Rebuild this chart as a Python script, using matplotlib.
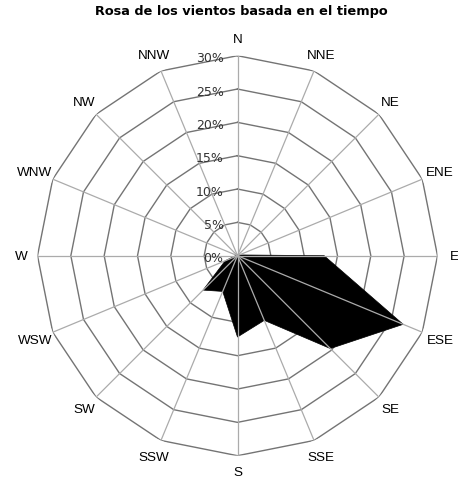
import numpy as np
import matplotlib
matplotlib.use("Agg")
import matplotlib.pyplot as plt

directions = ["N", "NNE", "NE", "ENE", "E", "ESE", "SE", "SSE",
              "S", "SSW", "SW", "WSW", "W", "WNW", "NW", "NNW"]
frequency = [0.2, 0.2, 0.2, 0.3, 13.0, 26.9, 19.7, 10.5,
             12.2, 5.8, 7.3, 2.0, 0.3, 0.2, 0.2, 0.2]
ring_values = [5, 10, 15, 20, 25, 30]
ring_labels = ["0%", "5%", "10%", "15%", "20%", "25%", "30%"]
title = "Rosa de los vientos basada en el tiempo"

W, H = 458, 481
fig = plt.figure(figsize=(W / 100, H / 100), dpi=100)
cx, cy, R = 237.5, 256.7, 200.0
ax = fig.add_axes([(cx - R) / W, (H - cy - R) / H, 2 * R / W, 2 * R / H],
                  projection="polar")
ax.set_theta_zero_location("N")
ax.set_theta_direction(-1)
ax.set_ylim(0, 30)
ax.grid(False)
ax.set_xticks([])
ax.set_yticks([])
ax.spines["polar"].set_visible(False)
ax.patch.set_visible(False)

n = len(directions)
theta = np.arange(n) * 2 * np.pi / n
theta_c = np.append(theta, theta[0])

ring_color = "#747474"
spoke_color = "#ababab"
for rv in ring_values:
    ax.plot(theta_c, [rv] * (n + 1), color=ring_color, lw=1.0, zorder=1)

vals = np.array(frequency)
ax.fill(theta_c, np.append(vals, vals[0]), color="black", lw=0.5, zorder=2)

for t in theta:
    ax.plot([t, t], [0, 30], color=spoke_color, lw=0.9, zorder=3)

for t, d in zip(theta, directions):
    off = 12.0 + 2.0 * abs(np.sin(t)) * (len(d) == 3)
    ax.annotate(d, xy=(t, 30), xytext=(off * np.sin(t), off * np.cos(t)),
                textcoords="offset points", ha="center", va="center",
                fontsize=9.7, family="Liberation Sans", color="black",
                annotation_clip=False)

for rv, lab in zip([0] + ring_values, ring_labels):
    ax.annotate(lab, xy=(0, rv), xytext=(-10, -1.5), textcoords="offset points",
                ha="right", va="center", fontsize=9, family="DejaVu Sans",
                color="#333333", zorder=4, annotation_clip=False)

fig.text(0.527, 0.976, title, ha="center", va="center", fontsize=9.3,
         fontweight="bold", family="DejaVu Sans")

fig.savefig("out.png", dpi=100)
